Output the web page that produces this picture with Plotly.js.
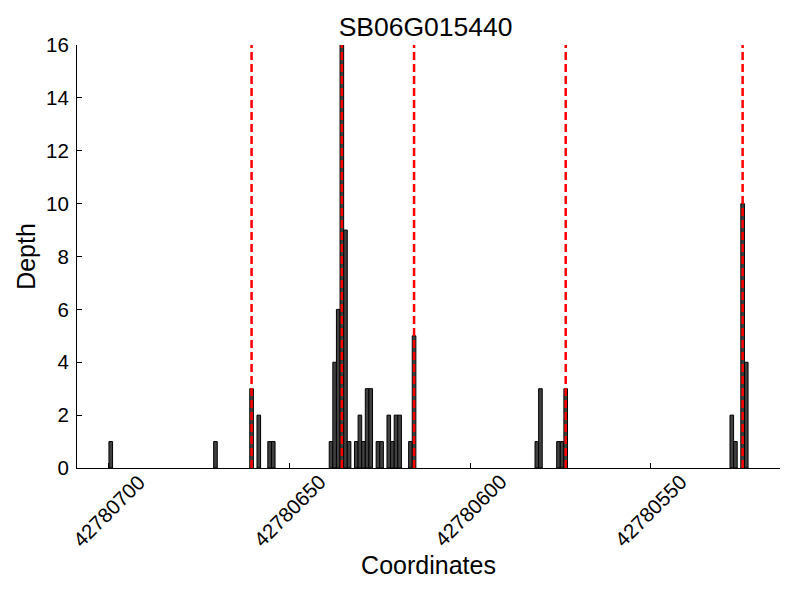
<!DOCTYPE html>
<html>
<head>
<meta charset="utf-8">
<script src="https://cdn.plot.ly/plotly-3.0.1.min.js"></script>
<style>html,body{margin:0;padding:0;background:#fff;}#chart{width:800px;height:600px;}</style>
</head>
<body>
<div id="chart"></div>
<script>
// Bar start coordinates (each bar spans 1 bp) and depths
var positions = [42780699, 42780670, 42780660, 42780658, 42780655, 42780654,
  42780638, 42780637, 42780636, 42780635, 42780634, 42780633,
  42780631, 42780630, 42780629, 42780628, 42780627, 42780625, 42780624,
  42780622, 42780621, 42780620, 42780619, 42780616, 42780615,
  42780581, 42780580, 42780575, 42780574, 42780573,
  42780527, 42780526, 42780524, 42780523];
var depths = [1, 1, 3, 2, 1, 1,
  1, 4, 6, 16, 9, 1,
  1, 2, 1, 3, 3, 1, 1,
  2, 1, 2, 2, 1, 5,
  1, 3, 1, 1, 3,
  2, 1, 10, 4];
// Exon boundary markers (red dashed lines)
var boundaries = [42780660.5, 42780635.5, 42780615.5, 42780573.5, 42780524.5];
var xTicks = [42780700, 42780650, 42780600, 42780550];
var xTickText = ["42780700", "42780650", "42780600", "42780550"];
var yTicks = [0, 2, 4, 6, 8, 10, 12, 14, 16];
var xRange = [42780708.85, 42780514.15];

var font = "Liberation Sans, Arial, sans-serif";

var trace = {
  type: "bar",
  x: positions,
  y: depths,
  width: 1,
  offset: 0,
  marker: {color: "#404040", line: {color: "#000000", width: 1}},
  hoverinfo: "x+y"
};

var shapes = boundaries.map(function (b) {
  return {type: "line", xref: "x", yref: "paper", x0: b, x1: b, y0: 0, y1: 1,
    line: {color: "#ff0000", width: 2.5, dash: "8px,4px"}, layer: "above"};
});

// rotated tick labels centred on their ticks (matplotlib style)
var annotations = xTicks.map(function (v, i) {
  return {xref: "x", yref: "paper", x: v, y: -0.1006, text: xTickText[i],
    textangle: -45, showarrow: false, xanchor: "center", yanchor: "middle",
    font: {family: font, size: 20.5, color: "#000"}};
});

var layout = {
  width: 800, height: 600,
  paper_bgcolor: "#ffffff", plot_bgcolor: "#ffffff",
  margin: {l: 77, r: 20, t: 45, b: 132},
  showlegend: false,
  bargap: 0,
  title: {text: "SB06G015440", font: {family: font, size: 26.5, color: "#000"},
    x: 0.532, xanchor: "center", y: 0.955, yanchor: "middle"},
  xaxis: {
    range: xRange, autorange: false,
    tickmode: "array", tickvals: xTicks, showticklabels: false,
    ticks: "inside", ticklen: 5, tickcolor: "#000",
    showline: true, linecolor: "#000", linewidth: 1, mirror: false,
    showgrid: false, zeroline: false,
    title: {text: "Coordinates", font: {family: font, size: 25, color: "#000"}, standoff: 88}
  },
  yaxis: {
    range: [0, 16], autorange: false,
    tickmode: "array", tickvals: yTicks, ticktext: yTicks.map(String),
    ticks: "inside", ticklen: 5, tickcolor: "#000",
    showline: true, linecolor: "#000", linewidth: 1,
    showgrid: false, zeroline: false,
    tickfont: {family: font, size: 20.5, color: "#000"},
    ticklabelstandoff: 3,
    title: {text: "Depth", font: {family: font, size: 25, color: "#000"}, standoff: 3}
  },
  annotations: annotations,
  shapes: shapes
};

Plotly.newPlot("chart", [trace], layout, {displayModeBar: false, staticPlot: true});
</script>
</body>
</html>
